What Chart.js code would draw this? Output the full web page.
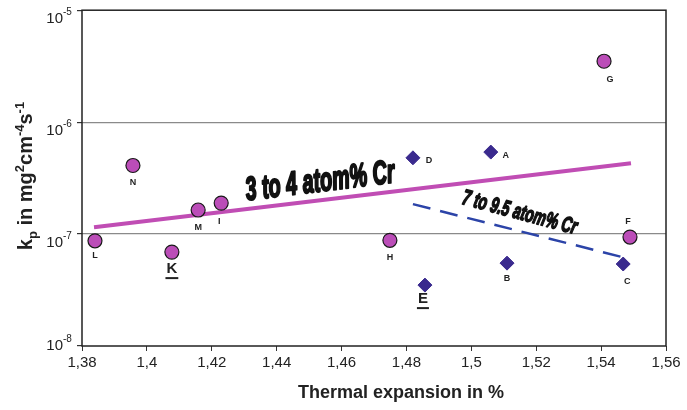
<!DOCTYPE html>
<html>
<head>
<meta charset="utf-8">
<script src="https://cdn.jsdelivr.net/npm/chart.js@4.4.1/dist/chart.umd.min.js"></script>
<style>
  html, body { margin: 0; padding: 0; background: #fff; }
  #wrap { width: 687px; height: 410px; position: relative; }
</style>
</head>
<body>
<div id="wrap"><canvas id="chart"></canvas></div>
<script>
// 3 to 4 atom% Cr samples (circles)
const circleNames = ['L', 'N', 'K', 'M', 'I', 'H', 'F', 'G'];
const circleX = [1.384, 1.3957, 1.4077, 1.4158, 1.4229, 1.4749, 1.5489, 1.5409];
const circleY = [8.7e-8, 4.1e-7, 6.9e-8, 1.64e-7, 1.89e-7, 8.8e-8, 9.4e-8, 3.5e-6];

// 7 to 9.5 atom% Cr samples (diamonds)
const diamondNames = ['D', 'A', 'B', 'E', 'C'];
const diamondX = [1.482, 1.506, 1.511, 1.4857, 1.5468];
const diamondY = [4.8e-7, 5.4e-7, 5.5e-8, 3.5e-8, 5.4e-8];

// trend lines
const lowCrX = [1.3837, 1.5492];
const lowCrY = [1.15e-7, 4.3e-7];
const highCrX = [1.482, 1.5468];
const highCrY = [1.85e-7, 6.2e-8];

const yTicks = [1e-8, 1e-7, 1e-6, 1e-5];
const yExponents = ['-8', '-7', '-6', '-5'];

function pts(xs, ys) {
  return xs.map((x, i) => ({x: x, y: ys[i]}));
}

// where each letter sits relative to its marker
const labelPlace = {
  L: [0, 15], N: [0, 17], M: [0, 17], I: [-2, 18], H: [0, 17], F: [-2, -16], G: [6, 18],
  D: [16, 3], A: [15, 3], B: [0, 15], C: [4, 17]
};
const bigLabels = {K: [0, 17], E: [-2, 14]};

const decorPlugin = {
  id: 'decor',
  beforeDatasetsDraw(chart) {
    const ctx = chart.ctx;
    const a = chart.chartArea;
    ctx.save();
    ctx.strokeStyle = '#222';
    ctx.lineWidth = 1.5;
    ctx.strokeRect(a.left, a.top, a.right - a.left, a.bottom - a.top);
    ctx.restore();
  },
  afterDatasetsDraw(chart) {
    const ctx = chart.ctx;
    const xs = chart.scales.x;
    const ys = chart.scales.y;
    ctx.save();
    ctx.fillStyle = '#222';

    // point letters
    const allNames = circleNames.concat(diamondNames);
    const allX = circleX.concat(diamondX);
    const allY = circleY.concat(diamondY);
    ctx.textAlign = 'center';
    ctx.textBaseline = 'middle';
    allNames.forEach((n, i) => {
      const px = xs.getPixelForValue(allX[i]);
      const py = ys.getPixelForValue(allY[i]);
      if (bigLabels[n]) {
        const o = bigLabels[n];
        ctx.font = 'bold 15px "Liberation Sans", Arial, sans-serif';
        ctx.fillText(n, px + o[0], py + o[1]);
        const w = ctx.measureText(n).width;
        ctx.fillRect(px + o[0] - w / 2 - 1, py + o[1] + 8, w + 2, 2);
      } else {
        const o = labelPlace[n];
        ctx.font = 'bold 9px "Liberation Sans", Arial, sans-serif';
        ctx.fillText(n, px + o[0], py + o[1]);
      }
    });

    // series annotations
    function slanted(text, x, y, angle, size, width, stroke) {
      ctx.save();
      ctx.translate(xs.getPixelForValue(x), ys.getPixelForValue(y));
      ctx.rotate(angle * Math.PI / 180);
      ctx.font = 'italic bold ' + size + 'px "Liberation Sans", Arial, sans-serif';
      const w = ctx.measureText(text).width;
      ctx.scale(width / w, 1);
      ctx.textAlign = 'center';
      ctx.textBaseline = 'middle';
      ctx.fillStyle = '#111';
      ctx.lineWidth = stroke;
      ctx.lineJoin = 'round';
      ctx.strokeStyle = '#111';
      ctx.strokeText(text, 0, 0);
      ctx.fillText(text, 0, 0);
      ctx.restore();
    }
    slanted('3 to 4 atom% Cr', 1.4534, 2.91e-7, -7, 33, 150, 2.2);
    slanted('7 to 9.5 atom% Cr', 1.5149, 1.54e-7, 15, 22, 118, 1.6);

    // y tick labels with exponents
    ctx.textBaseline = 'alphabetic';
    yTicks.forEach((v, i) => {
      const py = ys.getPixelForValue(v) - (i === 0 ? 9 : 0);
      ctx.font = '15px "Liberation Sans", Arial, sans-serif';
      ctx.textAlign = 'right';
      ctx.fillText('10', 63, py + 13);
      ctx.font = '10px "Liberation Sans", Arial, sans-serif';
      ctx.textAlign = 'left';
      ctx.fillText(yExponents[i], 63, py + 5);
    });

    // y axis title
    ctx.save();
    ctx.translate(32, 176);
    ctx.rotate(-Math.PI / 2);
    const big = 'bold 20px "Liberation Sans", Arial, sans-serif';
    const small = 'bold 13px "Liberation Sans", Arial, sans-serif';
    const parts = [
      ['k', big, 0], ['p', small, 5], [' in mg', big, 0], ['2', small, -8],
      ['cm', big, 0], ['-4', small, -8], ['s', big, 0], ['-1', small, -8]
    ];
    let total = 0;
    parts.forEach(p => { ctx.font = p[1]; total += ctx.measureText(p[0]).width; });
    let cx = -total / 2;
    ctx.textAlign = 'left';
    parts.forEach(p => {
      ctx.font = p[1];
      ctx.fillText(p[0], cx, p[2]);
      cx += ctx.measureText(p[0]).width;
    });
    ctx.restore();

    // x axis title
    ctx.font = 'bold 18px "Liberation Sans", Arial, sans-serif';
    ctx.textAlign = 'center';
    ctx.textBaseline = 'middle';
    ctx.fillText('Thermal expansion in %', 401, 393);

    ctx.restore();
  }
};

new Chart(document.getElementById('chart'), {
  type: 'scatter',
  data: {
    datasets: [
      {
        label: '3 to 4 atom% Cr',
        data: pts(circleX, circleY),
        pointStyle: 'circle',
        pointRadius: 7,
        backgroundColor: '#bb4db8',
        borderColor: '#1a1a1a',
        borderWidth: 1.2,
        order: 0
      },
      {
        label: '7 to 9.5 atom% Cr',
        data: pts(diamondX, diamondY),
        pointStyle: 'rectRot',
        pointRadius: 7,
        backgroundColor: '#3a2a8e',
        borderColor: '#3a2a8e',
        borderWidth: 1,
        order: 0
      },
      {
        label: 'trend 3-4',
        data: pts(lowCrX, lowCrY),
        showLine: true,
        borderColor: '#c04db4',
        borderWidth: 4,
        pointRadius: 0,
        order: 1
      },
      {
        label: 'trend 7-9.5',
        data: pts(highCrX, highCrY),
        showLine: true,
        borderColor: '#2c44a8',
        borderWidth: 2.5,
        borderDash: [18, 10],
        pointRadius: 0,
        order: 1
      }
    ]
  },
  options: {
    responsive: true,
    maintainAspectRatio: false,
    animation: false,
    layout: { padding: { left: 0, right: 21, top: 10, bottom: 0 } },
    plugins: {
      legend: { display: false },
      tooltip: { enabled: false }
    },
    scales: {
      x: {
        type: 'linear',
        min: 1.38,
        max: 1.56,
        afterFit(scale) { scale.height = 64; },
        ticks: {
          stepSize: 0.02,
          color: '#222',
          padding: 3,
          font: { family: '"Liberation Sans", Arial, sans-serif', size: 15 },
          callback: v => String(Math.round(v * 100) / 100).replace('.', ',')
        },
        grid: {
          drawOnChartArea: false,
          drawTicks: true,
          tickLength: 5,
          tickColor: '#333'
        },
        border: { display: false }
      },
      y: {
        type: 'logarithmic',
        min: 1e-8,
        max: 1e-5,
        afterBuildTicks(scale) { scale.ticks = yTicks.map(v => ({value: v})); },
        afterFit(scale) { scale.width = 82; },
        ticks: { callback: () => '' },
        grid: {
          color: ctx => (ctx.tick && (ctx.tick.value === 1e-6 || ctx.tick.value === 1e-7)) ? '#8a8a8a' : 'rgba(0,0,0,0)',
          lineWidth: 1.2,
          tickLength: 5,
          tickColor: '#333'
        },
        border: { display: false }
      }
    }
  },
  plugins: [decorPlugin]
});
</script>
</body>
</html>
